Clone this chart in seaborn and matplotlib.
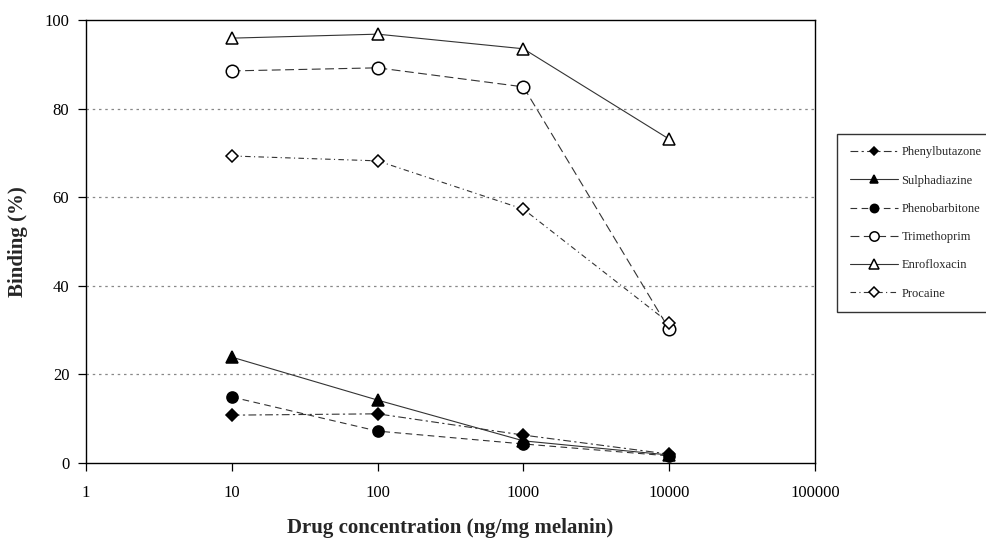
import matplotlib
matplotlib.use("Agg")
import matplotlib.pyplot as plt
import seaborn as sns
import pandas as pd

# Drug concentrations (ng/mg melanin) and binding (%) per drug
concentrations = [10, 100, 1000, 10000]
phenylbutazone = [10.8, 11.1, 6.3, 2.0]
sulphadiazine = [23.9, 14.2, 5.0, 1.8]
phenobarbitone = [14.9, 7.2, 4.3, 1.6]
trimethoprim = [88.5, 89.2, 84.9, 30.2]
enrofloxacin = [95.9, 96.8, 93.5, 73.1]
procaine = [69.3, 68.2, 57.3, 31.6]

drug_names = ["Phenylbutazone", "Sulphadiazine", "Phenobarbitone",
              "Trimethoprim", "Enrofloxacin", "Procaine"]
drug_values = [phenylbutazone, sulphadiazine, phenobarbitone,
               trimethoprim, enrofloxacin, procaine]

x_ticks = [1, 10, 100, 1000, 10000, 100000]
y_ticks = [0, 20, 40, 60, 80, 100]

rows = []
for name, vals in zip(drug_names, drug_values):
    for c, v in zip(concentrations, vals):
        rows.append({"drug": name, "conc": c, "binding": v})
df = pd.DataFrame(rows)

sns.set_style("white")
plt.rcParams["font.family"] = ["Liberation Serif", "DejaVu Serif"]

styles = {
    "Phenylbutazone": dict(marker="D", ms=6, mfc="black", ls=(0, (7, 3, 2, 3))),
    "Sulphadiazine": dict(marker="^", ms=8, mfc="black", ls="-"),
    "Phenobarbitone": dict(marker="o", ms=8, mfc="black", ls=(0, (6, 4))),
    "Trimethoprim": dict(marker="o", ms=9, mfc="white", ls=(0, (8, 4))),
    "Enrofloxacin": dict(marker="^", ms=9, mfc="white", ls="-"),
    "Procaine": dict(marker="D", ms=6.5, mfc="white", ls=(0, (5, 3, 1, 3))),
}

fig = plt.figure(figsize=(9.86, 5.4), dpi=100)
ax = fig.add_axes([0.0872, 0.1426, 0.7394, 0.8204])

for name in drug_names:
    st = styles[name]
    sub = df[df["drug"] == name]
    sns.lineplot(data=sub, x="conc", y="binding", ax=ax, label=name,
                 color="#333333", linewidth=0.8, linestyle=st["ls"],
                 marker=st["marker"], markersize=st["ms"],
                 markerfacecolor=st["mfc"], markeredgecolor="black",
                 markeredgewidth=1.1, estimator=None, sort=False)

ax.set_xscale("log")
ax.set_xlim(1, 100000)
ax.set_ylim(0, 100)
ax.set_xticks(x_ticks)
ax.set_xticklabels([str(t) for t in x_ticks])
ax.minorticks_off()
ax.set_yticks(y_ticks)
ax.set_yticklabels([str(t) for t in y_ticks])

for y in [20, 40, 60, 80]:
    ax.axhline(y, color="#888888", linewidth=0.9, linestyle=(0, (2, 3)), zorder=0)

for sp in ax.spines.values():
    sp.set_visible(True)
    sp.set_color("black")
    sp.set_linewidth(1.0)

ax.tick_params(axis="both", which="major", direction="out", length=6,
               width=0.9, color="black", labelsize=12, labelcolor="black",
               bottom=True, left=True, pad=6)
ax.tick_params(axis="x", pad=10)

ax.set_xlabel("Drug concentration (ng/mg melanin)", fontsize=15,
              fontweight="bold", labelpad=12)
ax.set_ylabel("Binding (%)", fontsize=15, fontweight="bold", labelpad=12)

handles, labels = ax.get_legend_handles_labels()
ax.get_legend().remove()
leg = fig.legend(handles, labels, loc="upper left",
                 bbox_to_anchor=(0.849, 0.752), fontsize=9,
                 frameon=True, fancybox=False, edgecolor="black",
                 labelspacing=1.3, handlelength=3.9, borderpad=1.0,
                 borderaxespad=0.0, handletextpad=0.25, markerscale=0.75)
leg.get_frame().set_linewidth(1.0)

fig.savefig("out.png", dpi=100)
